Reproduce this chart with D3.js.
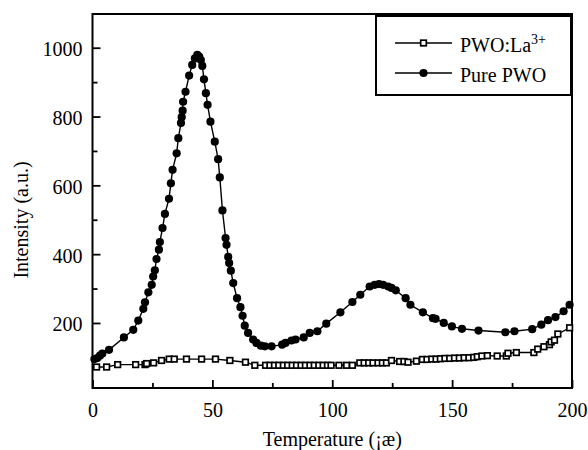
<!DOCTYPE html>
<html>
<head>
<meta charset="utf-8">
<script src="https://cdn.jsdelivr.net/npm/d3@7"></script>
</head>
<body style="margin:0">
<script>
// Pure PWO (filled circles)
const pureT = [0.8, 2.0, 3.1, 4.1, 6.9, 13.1, 17.0, 19.1, 21.2, 21.9, 23.3, 24.7, 25.3, 26.0, 26.7, 27.7, 28.1, 29.2, 30.2, 31.9,
  32.7, 33.4, 35.1, 35.8, 36.9, 37.2, 37.6, 37.8, 38.8, 40.3, 41.6, 42.7, 43.7, 44.5, 45.2, 45.8, 46.5, 47.3, 48.0, 49.2,
  51.0, 52.4, 53.1, 54.2, 55.5, 55.9, 56.6, 57.0, 57.7, 58.7, 60.3, 61.7, 62.6, 63.5, 64.9, 67.0, 68.4, 70.2, 71.9, 74.7,
  79.1, 80.5, 83.0, 84.7, 88.1, 90.6, 93.8, 97.5, 103.4, 108.4, 111.7, 115.6, 117.7, 119.5, 121.2, 123.3, 124.7, 126.5, 130.6, 132.6,
  137.8, 142.0, 143.1, 146.5, 149.9, 154.1, 161.0, 172.2, 176.0, 183.4, 187.2, 190.0, 193.1, 196.5, 199.0];
const pureI = [95, 98, 105, 111, 122, 158, 180, 207, 241, 260, 289, 311, 335, 353, 386, 413, 435, 476, 517, 561,
  606, 645, 693, 737, 781, 798, 817, 843, 872, 919, 950, 969, 979, 974, 964, 947, 908, 868, 834, 785,
  727, 676, 623, 527, 447, 427, 392, 374, 352, 316, 272, 246, 221, 192, 171, 152, 142, 134, 132, 132,
  137, 142, 149, 152, 158, 171, 176, 198, 231, 261, 282, 306, 311, 313, 311, 306, 302, 295, 272, 253,
  231, 214, 212, 200, 190, 183, 178, 173, 176, 182, 195, 208, 217, 234, 253];

// PWO:La3+ (open squares)
const laT = [1.7, 5.9, 10.5, 18.0, 21.9, 22.6, 25.5, 28.8, 32.0, 34.1, 39.2, 45.5, 51.3, 57.3, 63.8, 67.7,
  72.2, 74.0, 75.9, 77.7, 79.6, 81.4, 83.3, 85.1, 87.0, 88.8, 90.7, 92.5, 94.4, 96.2, 98.0, 99.5, 102.8, 106.0, 108.4,
  111.5, 113.3, 115.2, 117.0, 119.1, 120.9, 122.6, 124.7, 128.1, 129.9, 131.6, 135.1,
  137.6, 139.5, 141.5, 143.3, 145.1, 147.0, 149.0, 151.0, 153.0, 155.0, 157.0, 159.0, 160.5, 162.4, 164.7, 168.8, 172.6,
  173.3, 176.8, 184.1, 185.7, 188.3, 190.6, 191.3, 192.7, 194.1, 199.0];
const laI = [72, 72, 79, 79, 79, 82, 84, 91, 95, 95, 95, 95, 95, 91, 86, 77,
  77, 77, 77, 77, 77, 77, 77, 77, 77, 77, 77, 77, 77, 77, 77, 77, 77, 77, 77,
  84, 84, 84, 84, 84, 84, 84, 91, 88, 88, 86, 89,
  94, 94, 95, 95, 96, 97, 97, 98, 98, 99, 99, 100, 102, 104, 105, 104, 104,
  112, 114, 114, 124, 131, 137, 145, 150, 168, 186];

const xTicks = [0, 50, 100, 150, 200];
const yTicks = [200, 400, 600, 800, 1000];
const seriesNames = ["PWO:La", "Pure PWO"];

const W = 588, H = 450;
const margin = { top: 14, right: 16, bottom: 62, left: 92.5 };
const width = W - margin.left - margin.right,
      height = H - margin.top - margin.bottom;

const svg = d3.select("body").append("svg").attr("width", W).attr("height", H);
const g = svg.append("g").attr("transform", `translate(${margin.left},${margin.top})`);

const x = d3.scaleLinear().domain([0, 200]).range([0, width]);
const y = d3.scaleLinear().domain([11, 1098]).range([height, 0]);

// minor ticks (shorter)
g.append("g")
  .attr("transform", `translate(0,${height})`)
  .call(d3.axisBottom(x).tickValues([25, 75, 125, 175]).tickSizeInner(-5).tickSizeOuter(0).tickFormat(""))
  .call(a => a.select(".domain").remove());
g.append("g")
  .call(d3.axisLeft(y).tickValues([100, 300, 500, 700, 900]).tickSizeInner(-5).tickSizeOuter(0).tickFormat(""))
  .call(a => a.select(".domain").remove());

// major ticks with labels
const xAxis = g.append("g")
  .attr("transform", `translate(0,${height})`)
  .call(d3.axisBottom(x).tickValues(xTicks).tickSizeInner(-8).tickSizeOuter(0).tickPadding(0).tickFormat(d3.format("d")))
  .call(a => a.select(".domain").remove());
xAxis.selectAll("text").attr("y", 29).attr("dy", 0);

const yAxis = g.append("g")
  .call(d3.axisLeft(y).tickValues(yTicks).tickSizeInner(-8).tickSizeOuter(0).tickFormat(d3.format("d")))
  .call(a => a.select(".domain").remove());
yAxis.selectAll("text").attr("x", -10).attr("dy", "0.4em");

svg.selectAll(".tick line").attr("stroke", "#000").attr("stroke-width", 1.8);

// frame
g.append("rect")
  .attr("width", width).attr("height", height)
  .attr("fill", "none").attr("stroke", "#000").attr("stroke-width", 2);

const line = d3.line().x(d => x(d[0])).y(d => y(d[1]));
const pure = pureT.map((t, i) => [t, pureI[i]]);
const la = laT.map((t, i) => [t, laI[i]]);

g.append("path").datum(la)
  .attr("d", line).attr("fill", "none").attr("stroke", "#000").attr("stroke-width", 1.4);
g.append("path").datum(pure)
  .attr("d", line).attr("fill", "none").attr("stroke", "#000").attr("stroke-width", 1.4);

g.selectAll(".sq").data(la).enter().append("rect")
  .attr("class", "sq")
  .attr("x", d => x(d[0]) - 2.8).attr("y", d => y(d[1]) - 2.8)
  .attr("width", 5.6).attr("height", 5.6)
  .attr("fill", "#fff").attr("stroke", "#000").attr("stroke-width", 1.7);

g.selectAll(".dot").data(pure).enter().append("circle")
  .attr("class", "dot")
  .attr("cx", d => x(d[0])).attr("cy", d => y(d[1]))
  .attr("r", 4.1).attr("fill", "#000");

// axis titles
svg.append("text")
  .attr("x", margin.left + width / 2).attr("y", 446)
  .attr("text-anchor", "middle")
  .text("Temperature (¡æ)");

svg.append("text")
  .attr("transform", "translate(28,220) rotate(-90)")
  .attr("text-anchor", "middle")
  .text("Intensity (a.u.)");

// legend
const leg = svg.append("g");
leg.append("rect")
  .attr("x", 376).attr("y", 16).attr("width", 195).attr("height", 79)
  .attr("fill", "#fff").attr("stroke", "#000").attr("stroke-width", 2);

const rows = [43, 73];
rows.forEach((ry, i) => {
  leg.append("line")
    .attr("x1", 395).attr("x2", 452).attr("y1", ry).attr("y2", ry)
    .attr("stroke", "#000").attr("stroke-width", 1.4);
  if (i === 0) {
    leg.append("rect")
      .attr("x", 423.5 - 2.8).attr("y", ry - 2.8).attr("width", 5.6).attr("height", 5.6)
      .attr("fill", "#fff").attr("stroke", "#000").attr("stroke-width", 1.7);
  } else {
    leg.append("circle").attr("cx", 423.5).attr("cy", ry).attr("r", 4.1).attr("fill", "#000");
  }
  const t = leg.append("text")
    .attr("x", 460).attr("y", ry + 9)
    .text(seriesNames[i]);
  if (i === 0) {
    t.append("tspan").attr("dy", -8).text("3+");
  }
});

// same serif for every label: attribute and inline style, set last
svg.selectAll("g").attr("font-family", null).attr("font-size", null);
svg.selectAll("text")
  .attr("fill", "#000")
  .attr("font-family", "'Liberation Serif'")
  .attr("font-size", 20)
  .style("font-family", "'Liberation Serif'")
  .style("font-size", "20px");
svg.selectAll("tspan").attr("font-size", 14).style("font-size", "14px");
</script>
</body>
</html>
